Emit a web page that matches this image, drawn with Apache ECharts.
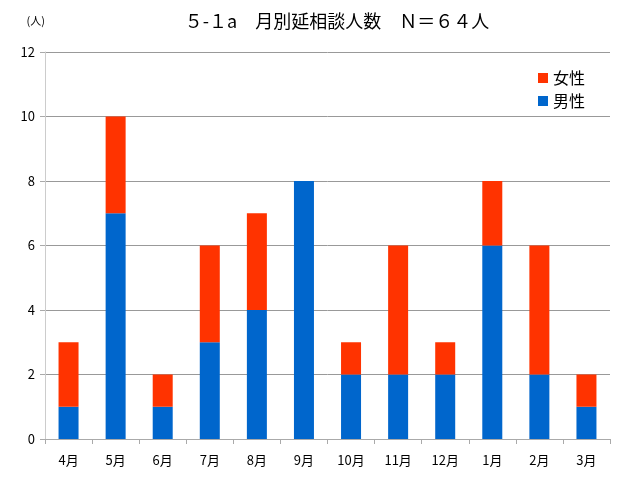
<!DOCTYPE html>
<html><head><meta charset="utf-8">
<script src="https://cdn.jsdelivr.net/npm/echarts@6/dist/echarts.min.js"></script>
<style>html,body{margin:0;padding:0;background:#fff}#c{width:640px;height:480px}</style>
</head><body><div id="c"></div>
<script>
const categories = ['4月','5月','6月','7月','8月','9月','10月','11月','12月','1月','2月','3月'];
const male = [1,7,1,3,4,8,2,2,2,6,2,1];
const female = [2,3,1,3,3,0,1,4,1,2,4,1];
const titleText = '５-１a　月別延相談人数　Ｎ＝６４人';
const font = '"Noto Sans CJK JP", "Noto Sans", sans-serif';
const chart = echarts.init(document.getElementById('c'));
chart.setOption({
  animation: false,
  backgroundColor: '#fff',
  textStyle: {fontFamily: font},
  title: {text: titleText, left: 332, top: 7, textAlign: 'center',
    textStyle: {fontSize: 18, fontWeight: 'normal', color: '#000', fontFamily: font}},
  legend: {data: ['女性','男性'], orient: 'vertical', left: 533, top: 65, itemWidth: 10, itemHeight: 10,
    itemGap: 7, icon: 'rect', textStyle: {fontSize: 16, color: '#000', fontFamily: font}},
  grid: {left: 45, right: 30, top: 52, bottom: 41},
  xAxis: {type: 'category', data: categories,
    axisLine: {lineStyle: {color: '#aaa'}},
    axisTick: {show: true, length: 5, lineStyle: {color: '#aaa'}},
    axisLabel: {color: '#000', fontSize: 13, margin: 15}},
  yAxis: {type: 'value', min: 0, max: 12, interval: 2,
    name: '(人)', nameLocation: 'end', nameGap: 26,
    nameTextStyle: {fontSize: 11, color: '#000', align: 'right', padding: [0, 0, 0, 0]},
    axisLine: {show: true, lineStyle: {color: '#ccc'}},
    axisTick: {show: true, length: 5, lineStyle: {color: '#aaa'}},
    axisLabel: {color: '#000', fontSize: 13, margin: 10},
    splitLine: {lineStyle: {color: '#999'}}},
  series: [
    {name: '男性', type: 'bar', stack: 'a', data: male, barWidth: 20, itemStyle: {color: '#0066CC'}},
    {name: '女性', type: 'bar', stack: 'a', data: female, barWidth: 20, itemStyle: {color: '#FF3300'}}
  ]
});
</script></body></html>
